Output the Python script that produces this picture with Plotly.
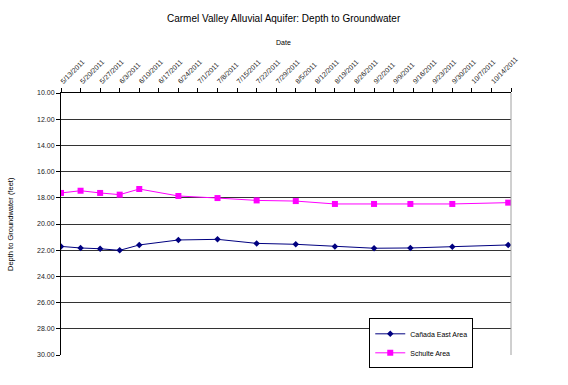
import plotly.graph_objects as go
from datetime import date, timedelta

# Measurement dates
dates = ["2011-05-13", "2011-05-20", "2011-05-27", "2011-06-03", "2011-06-10",
         "2011-06-24", "2011-07-08", "2011-07-22", "2011-08-05", "2011-08-19",
         "2011-09-02", "2011-09-15", "2011-09-30", "2011-10-20"]

# Depth to groundwater (feet)
canada_east = [21.71, 21.83, 21.89, 22.01, 21.60, 21.22, 21.17, 21.48, 21.55,
               21.71, 21.85, 21.83, 21.73, 21.60]
schulte = [17.63, 17.46, 17.63, 17.76, 17.33, 17.86, 18.02, 18.20, 18.25,
           18.47, 18.47, 18.47, 18.47, 18.37]

# Weekly tick labels on the top date axis
tick_dates = [date(2011, 5, 13) + timedelta(days=7 * i) for i in range(24)]
tick_vals = [d.isoformat() for d in tick_dates]
tick_text = [f"{d.month}/{d.day}/{d.year}" for d in tick_dates[:-1]] + [""]

y_ticks = [10, 12, 14, 16, 18, 20, 22, 24, 26, 28, 30]

FONT = "Liberation Sans, Arial, sans-serif"

fig = go.Figure()
fig.add_trace(go.Scatter(
    x=dates, y=canada_east, name="Cañada East Area", mode="lines+markers",
    line=dict(color="#000080", width=1),
    marker=dict(symbol="diamond", size=5, color="#000080"),
))
fig.add_trace(go.Scatter(
    x=dates, y=schulte, name="Schulte Area", mode="lines+markers",
    line=dict(color="#FF00FF", width=1),
    marker=dict(symbol="square", size=6, color="#FF00FF"),
))

fig.update_layout(
    width=568, height=385,
    margin=dict(l=61, r=57, t=93, b=30, autoexpand=False),
    paper_bgcolor="white", plot_bgcolor="white",
    font=dict(family=FONT, size=7, color="black"),
    showlegend=True,
    legend=dict(
        x=0.685, y=0.14, xanchor="left", yanchor="top",
        bgcolor="white", bordercolor="black", borderwidth=1,
        font=dict(size=7, family=FONT),
        tracegroupgap=0, itemwidth=30,
    ),
    xaxis=dict(
        type="date", side="top", automargin=False,
        range=["2011-05-13", "2011-10-21"],
        tickmode="array", tickvals=tick_vals, ticktext=tick_text,
        tickangle=-45, tickfont=dict(size=7, color="#222222"),
        ticks="outside", ticklen=4, tickcolor="black",
        showline=True, linecolor="black", linewidth=1,
        showgrid=False, zeroline=False,
    ),
    yaxis=dict(
        range=[30, 10], automargin=False,
        tickmode="array", tickvals=y_ticks,
        ticktext=[f"{v:.2f}" for v in y_ticks],
        tickfont=dict(size=7, color="#222222"),
        ticks="outside", ticklen=4, tickcolor="black",
        showline=True, linecolor="black", linewidth=1,
        showgrid=True, gridcolor="#333333", gridwidth=1,
        zeroline=False,
    ),
    shapes=[dict(type="line", xref="paper", yref="paper", x0=1, x1=1, y0=0, y1=1,
                 line=dict(color="#a0a0a0", width=1))],
    annotations=[
        dict(text="Carmel Valley Alluvial Aquifer: Depth to Groundwater",
             xref="paper", yref="paper", x=0.495, y=1, yshift=75,
             showarrow=False, font=dict(size=10, family=FONT), xanchor="center", yanchor="middle"),
        dict(text="Date", xref="paper", yref="paper", x=0.495, y=1, yshift=51,
             showarrow=False, font=dict(size=7, family=FONT), xanchor="center", yanchor="middle"),
        dict(text="Depth to Groundwater (feet)", xref="paper", yref="paper",
             x=0, xshift=-51, y=0.5, textangle=-90, showarrow=False,
             font=dict(size=7.5, family=FONT), xanchor="center", yanchor="middle"),
    ],
)

fig.write_html("out.html", config={"displayModeBar": False},
               post_script="document.body.style.margin='0';")
